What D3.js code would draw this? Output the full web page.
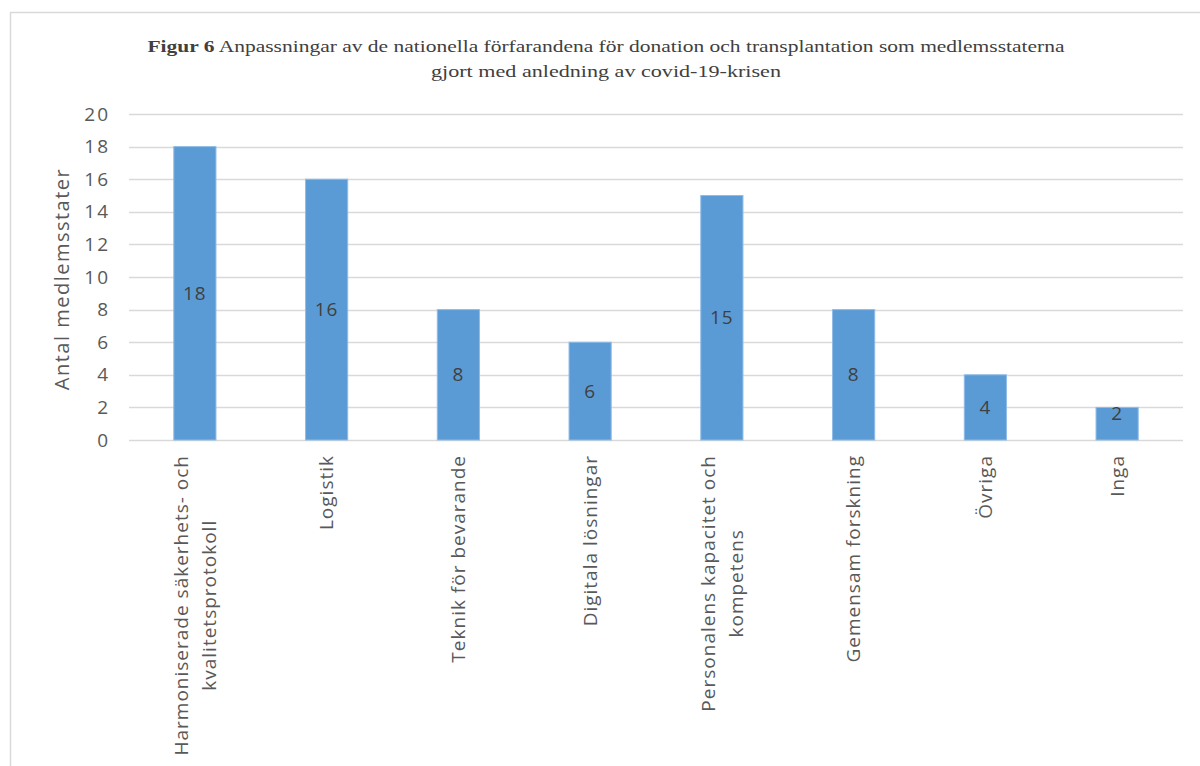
<!DOCTYPE html>
<html>
<head>
<meta charset="utf-8">
<script src="https://cdn.jsdelivr.net/npm/d3@7"></script>
<style>
  body { margin: 0; background: #fff; }
  svg { display: block; }
</style>
</head>
<body>
<div id="chart"></div>
<script>
"use strict";

// data
const categories = [
    ["Harmoniserade säkerhets- och", "kvalitetsprotokoll"],
    ["Logistik"],
    ["Teknik för bevarande"],
    ["Digitala lösningar"],
    ["Personalens kapacitet och", "kompetens"],
    ["Gemensam forskning"],
    ["Övriga"],
    ["Inga"]
];
const values = [18, 16, 8, 6, 15, 8, 4, 2];
const yTicks = [0, 2, 4, 6, 8, 10, 12, 14, 16, 18, 20];
const titleBold = "Figur 6";
const titleLine1 = " Anpassningar av de nationella förfarandena för donation och transplantation som medlemsstaterna";
const titleLine2 = "gjort med anledning av covid-19-krisen";
const yLabel = "Antal medlemsstater";



// setting
const width = 1200, height = 766;
const plot = { left: 129, right: 1183, top: 114, bottom: 440 };
const font = "'Open Sans', 'Liberation Sans', sans-serif";



let svg = d3.select("#chart").append("svg")
    .attr("width", width)
    .attr("height", height);

// outer frame
svg.append("path")
    .attr("d", `M10.5,${height} V12.5 H${width}`)
    .attr("fill", "none")
    .attr("stroke", "#d9d9d9")
    .attr("stroke-width", 1.5);



// title
let title = svg.append("text")
    .attr("x", 606)
    .attr("y", 52)
    .attr("text-anchor", "middle")
    .attr("font-family", "'Liberation Serif', 'DejaVu Serif', serif")
    .attr("font-size", 17)
    .attr("fill", "#404040")
    .attr("textLength", 917)
    .attr("lengthAdjust", "spacingAndGlyphs");
title.append("tspan").attr("font-weight", "bold").text(titleBold);
title.append("tspan").text(titleLine1);

svg.append("text")
    .attr("x", 606)
    .attr("y", 77)
    .attr("text-anchor", "middle")
    .attr("font-family", "'Liberation Serif', 'DejaVu Serif', serif")
    .attr("font-size", 17)
    .attr("fill", "#404040")
    .attr("textLength", 350)
    .attr("lengthAdjust", "spacingAndGlyphs")
    .text(titleLine2);



// scales
let scaleX = d3.scaleBand()
    .domain(d3.range(categories.length))
    .range([plot.left, plot.right])
    .paddingInner(0.68)
    .paddingOuter(0.34);

let scaleY = d3.scaleLinear()
    .domain([0, 20])
    .range([plot.bottom, plot.top]);



// grid lines
svg.append("g")
    .attr("class", "grid")
    .selectAll("line")
    .data(yTicks)
    .enter()
    .append("line")
    .attr("x1", plot.left)
    .attr("x2", plot.right)
    .attr("y1", d => Math.round(scaleY(d)) + 0.5)
    .attr("y2", d => Math.round(scaleY(d)) + 0.5)
    .attr("stroke", "#d9d9d9")
    .attr("stroke-width", 1.5);



// y axis labels
let yAxis = svg.append("g")
    .attr("transform", `translate(${plot.left - 19}, 0)`)
    .call(d3.axisLeft(scaleY).tickValues(yTicks).tickSize(0).tickPadding(0));
yAxis.select(".domain").remove();
yAxis.selectAll("text")
    .attr("font-family", font)
    .attr("font-size", 19)
    .attr("letter-spacing", 2)
    .attr("fill", "#595959");

svg.append("text")
    .attr("transform", `translate(69, ${(plot.top + plot.bottom) / 2 + 2}) rotate(-90)`)
    .attr("text-anchor", "middle")
    .attr("font-family", font)
    .attr("font-size", 20)
    .attr("letter-spacing", 1.5)
    .attr("fill", "#595959")
    .text(yLabel);



// bars
svg.append("g")
    .attr("class", "bars")
    .selectAll("rect")
    .data(values)
    .enter()
    .append("rect")
    .attr("x", (d, i) => scaleX(i))
    .attr("y", d => scaleY(d))
    .attr("width", scaleX.bandwidth())
    .attr("height", d => scaleY(0) - scaleY(d))
    .attr("fill", "#5b9bd5")
    .attr("stroke", "#8fbce6")
    .attr("stroke-width", 1);



// value labels
svg.append("g")
    .attr("class", "values")
    .selectAll("text")
    .data(values)
    .enter()
    .append("text")
    .attr("x", (d, i) => scaleX(i) + scaleX.bandwidth() / 2)
    .attr("y", d => Math.min((scaleY(d) + scaleY(0)) / 2, scaleY(0) - 27))
    .attr("dy", "0.35em")
    .attr("text-anchor", "middle")
    .attr("font-family", font)
    .attr("font-size", 19)
    .attr("letter-spacing", 1)
    .attr("fill", "#404040")
    .text(d => d);



// x category labels (rotated, lines centred on each other)
svg.append("g")
    .attr("class", "x_labels")
    .selectAll("g")
    .data(categories)
    .enter()
    .append("g")
    .each(function(lines, i) {
        let g = d3.select(this);
        let lineGap = 28;
        let cx = scaleX(i) + scaleX.bandwidth() / 2 - (lines.length - 1) * lineGap / 2;
        let texts = g.selectAll("text")
            .data(lines)
            .enter()
            .append("text")
            .attr("font-family", font)
            .attr("font-size", 19)
            .attr("letter-spacing", 1)
            .attr("fill", "#595959")
            .attr("text-anchor", "middle")
            .attr("dy", "0.35em")
            .text(d => d);
        let maxLen = d3.max(texts.nodes(), n => n.getComputedTextLength());
        texts.attr("transform", (d, j) =>
            `translate(${cx + j * lineGap}, ${plot.bottom + 15 + maxLen / 2}) rotate(-90)`);
    });
</script>
</body>
</html>
